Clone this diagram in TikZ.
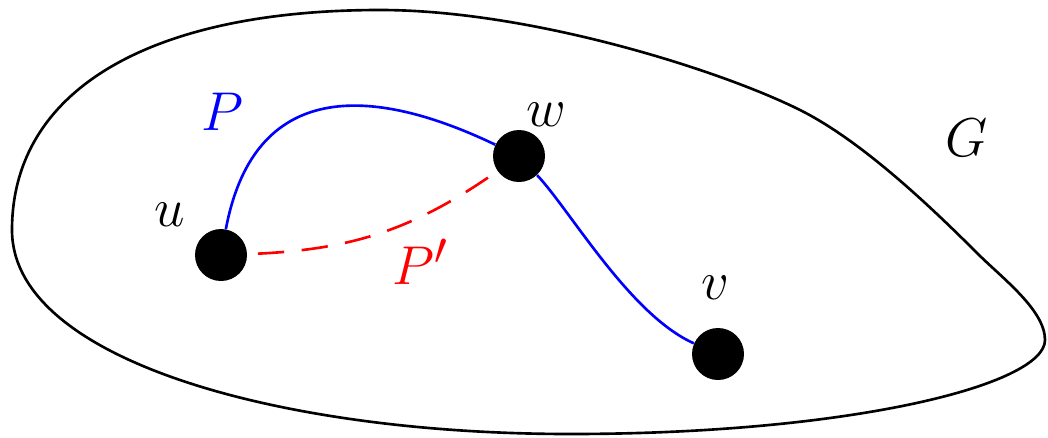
\documentclass[tikz,border=0pt]{standalone}
\usepackage{amsmath,amssymb,graphicx}
\usetikzlibrary{positioning}
\newcommand{\lab}[1]{\scalebox{1.25}{$#1$}}

\begin{document}
\begin{tikzpicture}[
      vtx/.style={circle,fill=black,inner sep=0pt,minimum size=1.04cm},
      lbl/.style={font=\Huge,inner sep=0pt},
      path/.style={line width=1.5pt}
    ]
    \useasboundingbox (0,0) rectangle (20.96,-8.74);
    \coordinate (gtop) at (7.6,-0.2);
    \coordinate (gleft) at (0.24,-4.6);
    \coordinate (gbot) at (11.4,-8.68);
    \coordinate (gtip) at (20.9,-6.8);
    \coordinate (gside) at (19.54,-5.06);
    \coordinate (gshoulder) at (16,-2.2);
    \draw[line width=1.5pt] (gtop) .. controls (3.0,-0.2) and (0.24,-1.8) .. (gleft)
      .. controls (0.24,-7.2) and (5.6,-8.68) .. (gbot)
      .. controls (17,-8.68) and (20.9,-7.7) .. (gtip)
      .. controls (20.9,-6.2) and (20.04,-5.56) .. (gside)
      .. controls (18.54,-4.06) and (17.2,-2.8) .. (gshoulder)
      .. controls (14.4,-1.4) and (10.6,-0.2) .. (gtop) -- cycle;
    \node[vtx] (u) at (4.42,-5.10) {};
    \node[vtx] (w) at (10.38,-3.12) {};
    \node[vtx] (v) at (14.36,-7.08) {};
    \node[lbl] (lu) at (3.40,-4.30) {\lab{u}};
    \node[lbl] (lw) at (10.92,-2.30) {\lab{w}};
    \node[lbl] (lv) at (14.30,-5.76) {\lab{v}};
    \node[lbl,blue] (lP) at (4.44,-2.24) {\lab{P}};
    \node[lbl,red] (lPp) at (8.40,-5.24) {\lab{P'}};
    \node[lbl] (lG) at (19.34,-2.76) {\lab{G}};
    \draw[path,blue] (u) .. controls (5.05,-1.75) and (7.2,-1.6) .. (w);
    \draw[path,blue] (w) .. controls (11.4,-4.2) and (12.6,-6.3) .. (v);
    \draw[path,red,dash pattern=on 15pt off 10pt,dash phase=-6pt] (u) to[out=2,in=-145] (w);
  \end{tikzpicture}
\end{document}
